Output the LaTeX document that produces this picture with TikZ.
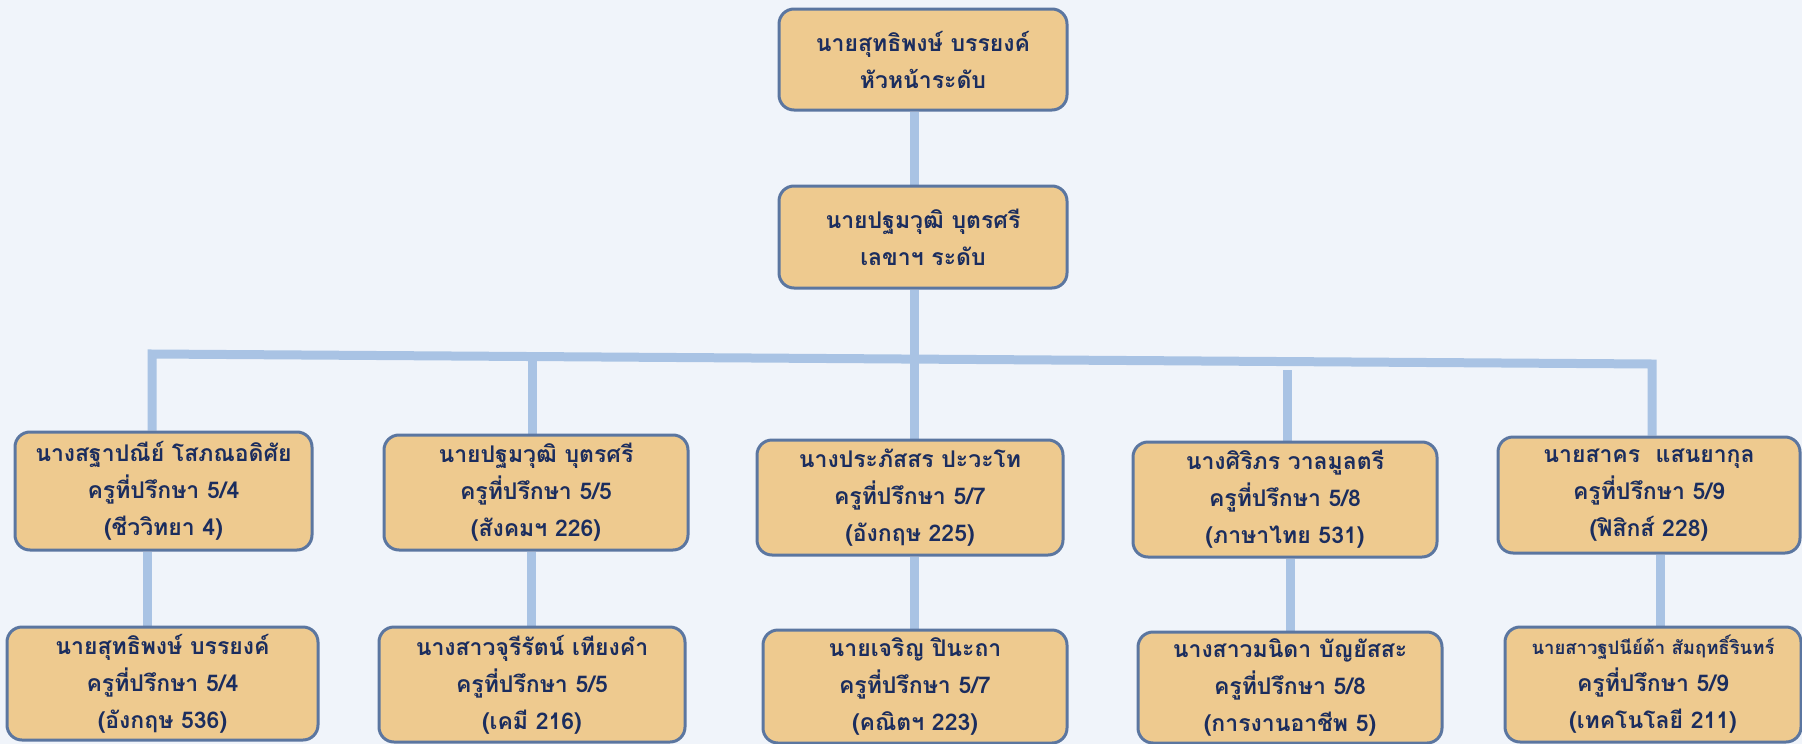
\documentclass[tikz,border=0pt]{standalone}
\usepackage{fontspec}
\newfontfamily\thaifont[Script=Thai]{Loma}
\definecolor{bgc}{HTML}{F0F4FA}
\definecolor{boxc}{HTML}{EECA8F}
\definecolor{bordc}{HTML}{5B76A0}
\definecolor{txtc}{HTML}{1B2D5E}
\definecolor{connc}{HTML}{A9C3E4}
\pgfdeclarelayer{background}
\pgfdeclarelayer{canvas}
\pgfsetlayers{canvas,background,main}
\tikzset{
  orgbox/.style={draw=bordc, line width=3pt, fill=boxc, rounded corners=15pt,
    text=txtc, font=\thaifont\bfseries\fontsize{23}{37}\selectfont,
    align=center, inner sep=0pt},
  conn/.style={draw=connc, line width=9pt}
}
\newcommand{\bx}[6]{% name, cx, cy, w, h, text
  \node[orgbox, minimum width=#4pt, minimum height=#5pt] (#1) at (#2,-#3) {#6};}
\begin{document}
\begin{tikzpicture}[x=1pt,y=1pt]
\begin{pgfonlayer}{canvas}
\fill[bgc] (0,0) rectangle (1802,-744);
\end{pgfonlayer}
\useasboundingbox (0,0) rectangle (1802,-744);
% top levels
\bx{T}{923}{59.5}{288}{101}{นายสุทธิพงษ์ บรรยงค์\\หัวหน้าระดับ}
\bx{S}{923}{237}{288}{102}{นายปฐมวุฒิ บุตรศรี\\เลขาฯ ระดับ}
% level 1
\bx{a1}{163.5}{491}{297}{118}{นางสฐาปณีย์ โสภณอดิศัย\\ครูที่ปรึกษา 5/4\\(ชีววิทยา 4)}
\bx{a2}{536}{492.5}{304}{115}{นายปฐมวุฒิ บุตรศรี\\ครูที่ปรึกษา 5/5\\(สังคมฯ 226)}
\bx{a3}{910}{497.5}{306}{115}{นางประภัสสร ปะวะโท\\ครูที่ปรึกษา 5/7\\(อังกฤษ 225)}
\bx{a4}{1285}{499.5}{304}{115}{นางศิริภร วาลมูลตรี\\ครูที่ปรึกษา 5/8\\(ภาษาไทย 531)}
\bx{a5}{1649}{495}{302}{116}{นายสาคร\ \ แสนยากุล\\ครูที่ปรึกษา 5/9\\(ฟิสิกส์ 228)}
% level 2
\bx{b1}{162.5}{683.5}{311}{113}{นายสุทธิพงษ์ บรรยงค์\\ครูที่ปรึกษา 5/4\\(อังกฤษ 536)}
\bx{b2}{532}{684.5}{306}{115}{นางสาวจุรีรัตน์ เทียงคำ\\ครูที่ปรึกษา 5/5\\(เคมี 216)}
\bx{b3}{915}{686.5}{304}{113}{นายเจริญ ปินะถา\\ครูที่ปรึกษา 5/7\\(คณิตฯ 223)}
\bx{b4}{1290}{687.5}{304}{111}{นางสาวมนิดา บัญยัสสะ\\ครูที่ปรึกษา 5/8\\(การงานอาชีพ 5)}
\bx{b5}{1653}{684.5}{296}{115}{{\fontsize{18.5}{37}\selectfont นายสาวฐปนีย์ด้า สัมฤทธิ์รินทร์}\\ครูที่ปรึกษา 5/9\\(เทคโนโลยี 211)}
% connectors
\coordinate (cx) at (914,0);
\coordinate (jL) at (152,-354);
\coordinate (jR) at (1652,-364);
\coordinate (j2) at (532,-356.5);
\coordinate (j4) at (1287,-370);
\coordinate (k1) at (147.5,0);
\coordinate (k2) at (531,0);
\coordinate (k3) at (914,0);
\coordinate (k4) at (1290,0);
\coordinate (k5) at (1660,0);
\begin{pgfonlayer}{background}
\draw[conn] (cx |- T.south) -- (cx |- S.north);
\draw[conn] (cx |- S.south) -- (cx |- a3.north);
\draw[conn] (jL |- a1.north) -- (jL) -- (jR) -- (jR |- a5.north);
\draw[conn] (j2) -- (j2 |- a2.north);
\draw[conn] (j4) -- (j4 |- a4.north);
\draw[conn] (k1 |- a1.south) -- (k1 |- b1.north);
\draw[conn] (k2 |- a2.south) -- (k2 |- b2.north);
\draw[conn] (k3 |- a3.south) -- (k3 |- b3.north);
\draw[conn] (k4 |- a4.south) -- (k4 |- b4.north);
\draw[conn] (k5 |- a5.south) -- (k5 |- b5.north);
\end{pgfonlayer}
\end{tikzpicture}
\end{document}
